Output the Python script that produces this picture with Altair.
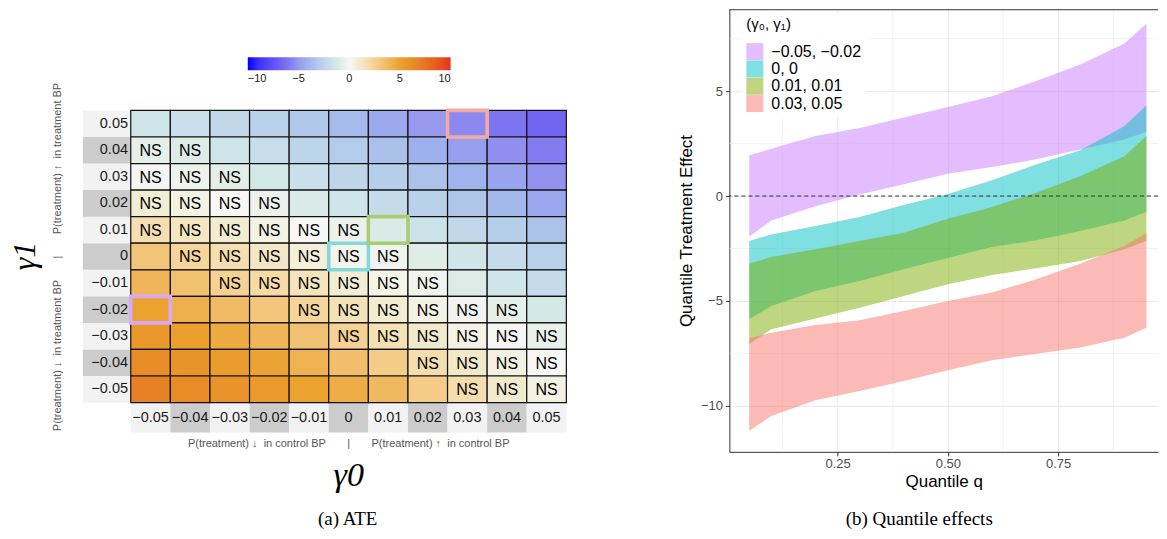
import altair as alt
import pandas as pd

# ---------------- Panel (a): ATE heat map ----------------
gamma_vals = [-0.05, -0.04, -0.03, -0.02, -0.01, 0.0, 0.01, 0.02, 0.03, 0.04, 0.05]
gamma_labels = ["−0.05", "−0.04", "−0.03", "−0.02", "−0.01", "0",
                "0.01", "0.02", "0.03", "0.04", "0.05"]
gamma1_rows = [0.05, 0.04, 0.03, 0.02, 0.01, 0.0, -0.01, -0.02, -0.03, -0.04, -0.05]

# ATE estimates, rows = gamma1 (top 0.05 -> bottom -0.05), cols = gamma0 (-0.05 -> 0.05)
ate_rows = [
    [-1.6, -1.9, -2.3, -2.7, -3.2, -3.8, -4.4, -5.0, -5.5, -6.1, -6.7],
    [-0.7, -1.0, -1.6, -2.0, -2.5, -3.0, -3.6, -4.2, -4.8, -5.3, -5.9],
    [-0.1, -0.4, -0.8, -1.4, -1.9, -2.4, -2.9, -3.5, -4.1, -4.6, -5.2],
    [0.8, 0.4, 0.0, -0.5, -1.1, -1.6, -2.1, -2.7, -3.3, -3.9, -4.5],
    [1.7, 1.3, 0.9, 0.4, 0.0, -0.5, -1.1, -1.7, -2.3, -2.9, -3.5],
    [3.2, 2.3, 1.7, 1.2, 0.7, 0.2, -0.3, -0.9, -1.5, -2.1, -2.7],
    [4.0, 3.4, 2.5, 2.0, 1.4, 0.8, 0.3, -0.3, -1.0, -1.5, -2.1],
    [5.0, 4.3, 3.7, 3.1, 2.3, 1.5, 0.9, 0.4, -0.2, -0.7, -1.3],
    [5.6, 5.1, 4.6, 4.0, 3.3, 2.5, 1.6, 1.0, 0.4, -0.1, -0.6],
    [6.2, 5.8, 5.3, 4.9, 4.2, 3.5, 2.8, 1.8, 1.1, 0.5, 0.0],
    [6.9, 6.4, 5.9, 5.5, 5.0, 4.4, 3.8, 2.8, 1.8, 1.0, 0.5],
]
# 1 = not significant ("NS")
ns_rows = [
    [0, 0, 0, 0, 0, 0, 0, 0, 0, 0, 0],
    [1, 1, 0, 0, 0, 0, 0, 0, 0, 0, 0],
    [1, 1, 1, 0, 0, 0, 0, 0, 0, 0, 0],
    [1, 1, 1, 1, 0, 0, 0, 0, 0, 0, 0],
    [1, 1, 1, 1, 1, 1, 0, 0, 0, 0, 0],
    [0, 1, 1, 1, 1, 1, 1, 0, 0, 0, 0],
    [0, 0, 1, 1, 1, 1, 1, 1, 0, 0, 0],
    [0, 0, 0, 0, 1, 1, 1, 1, 1, 1, 0],
    [0, 0, 0, 0, 0, 1, 1, 1, 1, 1, 1],
    [0, 0, 0, 0, 0, 0, 0, 1, 1, 1, 1],
    [0, 0, 0, 0, 0, 0, 0, 0, 1, 1, 1],
]
hl_g0 = [-0.05, 0.0, 0.01, 0.03]
hl_g1 = [-0.02, 0.0, 0.01, 0.05]
hl_colors = ["#D9A9F7", "#82D9DC", "#AACD72", "#F4A9A2"]

ate_domain = [-10, -6.5, -5, -3.5, -2, 0, 2, 5, 7, 10]
ate_range = ["#0000FF", "#7468F0", "#9898EE", "#ADC2E8", "#C8DDEA", "#F7F7F5",
             "#F7DAA6", "#EBA22E", "#E67F25", "#E5321F"]

# ---------------- Panel (b): quantile ribbons ----------------
quantiles = [0.05, 0.1, 0.2, 0.3, 0.4, 0.5, 0.6, 0.7, 0.8, 0.9, 0.95]
group_labels = ["−0.05, −0.02", "0, 0", "0.01, 0.01", "0.03, 0.05"]
group_colors = ["#C77CFF", "#00BFC4", "#7CAE00", "#F8766D"]
purple_lo = [-1.94, -1.16, -0.48, 0.08, 0.56, 1.06, 1.38, 1.75, 2.22, 2.70, 3.06]
purple_hi = [1.95, 2.25, 2.86, 3.25, 3.75, 4.24, 4.76, 5.48, 6.27, 7.27, 8.22]
cyan_lo = [-5.87, -5.24, -4.52, -4.05, -3.49, -2.95, -2.43, -2.11, -1.67, -1.16, -0.75]
cyan_hi = [-2.14, -1.83, -1.43, -1.00, -0.43, 0.10, 0.75, 1.50, 2.18, 3.33, 4.33]
green_lo = [-7.05, -6.35, -5.83, -5.32, -4.76, -4.20, -3.76, -3.44, -3.10, -2.54, -2.14]
green_hi = [-3.22, -2.90, -2.54, -2.14, -1.75, -1.08, -0.52, 0.16, 0.95, 1.90, 2.86]
red_lo = [-11.19, -10.48, -9.73, -9.29, -8.81, -8.30, -7.83, -7.51, -7.22, -6.75, -6.27]
red_hi = [-6.78, -6.51, -6.14, -5.92, -5.48, -5.00, -4.60, -3.97, -3.22, -2.38, -1.75]
x_major = [0.25, 0.5, 0.75]
x_minor = [0.125, 0.375, 0.625, 0.875]
y_major = [-10, -5, 0, 5]
y_minor = [-7.5, -2.5, 2.5, 7.5]

FONT = "Liberation Sans"
SERIF = "Liberation Serif"
NB = "\u00a0"

# ================= build panel (a) =================
cells = []
for r, g1 in enumerate(gamma1_rows):
    for c, g0 in enumerate(gamma_vals):
        cells.append({
            "g0a": g0 - 0.005, "g0b": g0 + 0.005,
            "g1a": g1 - 0.005, "g1b": g1 + 0.005,
            "g0": g0, "g1": g1,
            "ate": ate_rows[r][c],
            "ns": "NS" if ns_rows[r][c] else "",
        })
df_cells = pd.DataFrame(cells)

lab_rows = []
for i, (g, lab) in enumerate(zip(gamma_vals, gamma_labels)):
    lab_rows.append({
        "g": g, "ga": g - 0.005, "gb": g + 0.005, "lab": lab,
        "shade": "#CCCCCC" if i % 2 == 1 else "#F2F2F2",
        "rx0": -0.0671, "rx1": -0.055, "rxt": -0.0557,
        "cy0": -0.055, "cy1": -0.0663, "cyt": -0.0607,
    })
df_lab = pd.DataFrame(lab_rows)

df_hl = pd.DataFrame({
    "g0a": [g - 0.005 for g in hl_g0], "g0b": [g + 0.005 for g in hl_g0],
    "g1a": [g - 0.005 for g in hl_g1], "g1b": [g + 0.005 for g in hl_g1],
    "col": hl_colors,
})

XS = alt.Scale(domain=[-0.086, 0.078], nice=False, zero=False)
YS = alt.Scale(domain=[-0.10101, 0.0931], nice=False, zero=False)


def lx(f):
    return alt.X(f, type="quantitative", scale=XS, axis=None)


def ly(f):
    return alt.Y(f, type="quantitative", scale=YS, axis=None)


row_bg = alt.Chart(df_lab).mark_rect().encode(
    x=lx("rx0"), x2=alt.X2("rx1"), y=ly("ga"), y2=alt.Y2("gb"),
    fill=alt.Fill("shade:N", scale=None))
col_bg = alt.Chart(df_lab).mark_rect().encode(
    x=lx("ga"), x2=alt.X2("gb"), y=ly("cy0"), y2=alt.Y2("cy1"),
    fill=alt.Fill("shade:N", scale=None))
row_txt = alt.Chart(df_lab).mark_text(align="right", baseline="middle", fontSize=14.5,
                                      font=FONT, color="#1A1A1A").encode(
    x=lx("rxt"), y=ly("g"), text="lab:N")
col_txt = alt.Chart(df_lab).mark_text(align="center", baseline="middle", fontSize=14.5,
                                      font=FONT, color="#1A1A1A").encode(
    x=lx("g"), y=ly("cyt"), text="lab:N")

heat = alt.Chart(df_cells).mark_rect(stroke="#111111", strokeWidth=1.2).encode(
    x=lx("g0a"), x2=alt.X2("g0b"), y=ly("g1a"), y2=alt.Y2("g1b"),
    fill=alt.Fill("ate:Q",
                  scale=alt.Scale(domain=ate_domain, range=ate_range),
                  legend=alt.Legend(orient="none", legendX=240, legendY=48,
                                    direction="horizontal", gradientLength=203,
                                    gradientThickness=13, title=None,
                                    values=[-10, -5, 0, 5, 10], labelFontSize=11,
                                    labelFont=FONT, labelColor="#1A1A1A",
                                    labelAlign="center", labelOffset=3,
                                    gradientStrokeWidth=0, padding=0)))
ns_txt = alt.Chart(df_cells).mark_text(fontSize=16, font=FONT, color="black",
                                       baseline="middle", dy=1).encode(
    x=lx("g0"), y=ly("g1"), text="ns:N")
hl = alt.Chart(df_hl).mark_rect(fill=None, strokeWidth=3.6).encode(
    x=lx("g0a"), x2=alt.X2("g0b"), y=ly("g1a"), y2=alt.Y2("g1b"),
    stroke=alt.Stroke("col:N", scale=None))

gap = NB * 7
ann_df = pd.DataFrame({
    "t": ["γ1",
          "P(treatment) ↓" + NB * 2 + "in treatment BP" + gap + "|" + gap
          + "P(treatment) ↑" + NB * 2 + "in treatment BP",
          "P(treatment) ↓" + NB * 2 + "in control BP" + gap + "|" + gap
          + "P(treatment) ↑" + NB * 2 + "in control BP",
          "γ0", "(a) ATE"],
})


def ann(i, x, y, size, font, color, angle=0, style="normal"):
    kw = dict(fontSize=size, font=font, color=color, align="center",
              baseline="middle", fontStyle=style)
    if angle:
        kw["angle"] = angle
    return alt.Chart(ann_df.iloc[[i]]).mark_text(**kw).encode(
        text="t:N", x=alt.value(x), y=alt.value(y))


left = alt.layer(
    row_bg, col_bg, heat, ns_txt, hl, row_txt, col_txt,
    ann(0, 17, 247, 32, SERIF, "black", 270, "italic"),
    ann(1, 50, 248, 11, FONT, "#555555", 270),
    ann(2, 341, 435, 11, FONT, "#555555"),
    ann(3, 341, 467, 34, SERIF, "black", 0, "italic"),
    ann(4, 340, 510, 19, SERIF, "black"),
).properties(width=650, height=516)

# ================= build panel (b) =================
rib = []
for lab, lo, hi in zip(group_labels,
                       [purple_lo, cyan_lo, green_lo, red_lo],
                       [purple_hi, cyan_hi, green_hi, red_hi]):
    for q, a, b in zip(quantiles, lo, hi):
        rib.append({"grp": lab, "q": q, "lo": a, "hi": b})
df_rib = pd.DataFrame(rib)

RW = 429
RXS = alt.Scale(domain=[0.005, 0.9762], nice=False, zero=False)
RYS = alt.Scale(domain=[-12.19, 8.905], nice=False, zero=False)
XAX = alt.Axis(values=x_major, format=".2f", title="Quantile q", titleFontSize=17,
               titleFontWeight="normal", titleColor="black", titlePadding=3,
               titleFont=FONT, labelFont=FONT, labelFontSize=13, labelColor="#4D4D4D",
               tickColor="#333333", tickSize=4, labelPadding=2, domainColor="#333333",
               grid=True, gridColor="#EBEBEB", gridWidth=1.1)
YAX = alt.Axis(values=y_major, title="Quantile Treatment Effect", titleFontSize=17,
               titleFontWeight="normal", titleColor="black", titlePadding=5,
               titleFont=FONT, labelFont=FONT, labelFontSize=13, labelColor="#4D4D4D",
               tickColor="#333333", tickSize=4, labelPadding=3, domainColor="#333333",
               grid=True, gridColor="#EBEBEB", gridWidth=1.1)


def rx(f):
    return alt.X(f, type="quantitative", scale=RXS, axis=XAX)


def ry(f):
    return alt.Y(f, type="quantitative", scale=RYS, axis=YAX)


gx = alt.Chart(pd.DataFrame({"gx": x_minor})).mark_rule(
    color="#EBEBEB", strokeWidth=0.6).encode(x=rx("gx"))
gy = alt.Chart(pd.DataFrame({"gy": y_minor})).mark_rule(
    color="#EBEBEB", strokeWidth=0.6).encode(y=ry("gy"))

LEG = alt.Legend(orient="none", legendX=12, legendY=3, title="(γ₀, γ₁)",
                 titleFont=FONT, titleFontSize=15, titleFontWeight="normal",
                 titleColor="black", titlePadding=11, labelFont=FONT, labelFontSize=16,
                 labelColor="black", labelOffset=8, symbolType="square",
                 symbolSize=289, symbolStrokeWidth=0, symbolOpacity=0.5,
                 rowPadding=0.3, padding=5, fillColor="white")

areas = []
for lab in group_labels:
    areas.append(
        alt.Chart(df_rib).transform_filter(alt.datum.grp == lab)
        .mark_area(opacity=0.5)
        .encode(x=rx("q"), y=ry("lo"), y2=alt.Y2("hi"),
                color=alt.Color("grp:N", sort=group_labels,
                                scale=alt.Scale(domain=group_labels, range=group_colors),
                                legend=LEG))
    )

zero = alt.Chart(pd.DataFrame({"z": [0]})).mark_rule(
    color="#333333", strokeDash=[4, 3], strokeWidth=1.1).encode(y=ry("z"))

top_border = alt.Chart(pd.DataFrame({"b": [0]})).mark_rule(
    color="#333333", strokeWidth=1.2).encode(
    x=alt.value(0), x2=alt.value(RW), y=alt.value(0.5))

cap = alt.Chart(pd.DataFrame({"t": ["(b) Quantile effects"]})).mark_text(
    fontSize=19, font=SERIF, color="black", align="center", baseline="middle").encode(
    text="t:N", x=alt.value(190), y=alt.value(510))

right = alt.layer(gx, gy, *areas, zero, top_border, cap).properties(
    width=RW, height=443)

chart = alt.hconcat(left, right, spacing=72, bounds="flush").resolve_scale(
    color="independent", fill="independent", stroke="independent"
).properties(padding={"left": 0, "top": 0, "right": 0, "bottom": 0}
).configure(font=FONT).configure_view(stroke=None)

chart.save("out.html", embed_options={"renderer": "svg", "actions": False})
